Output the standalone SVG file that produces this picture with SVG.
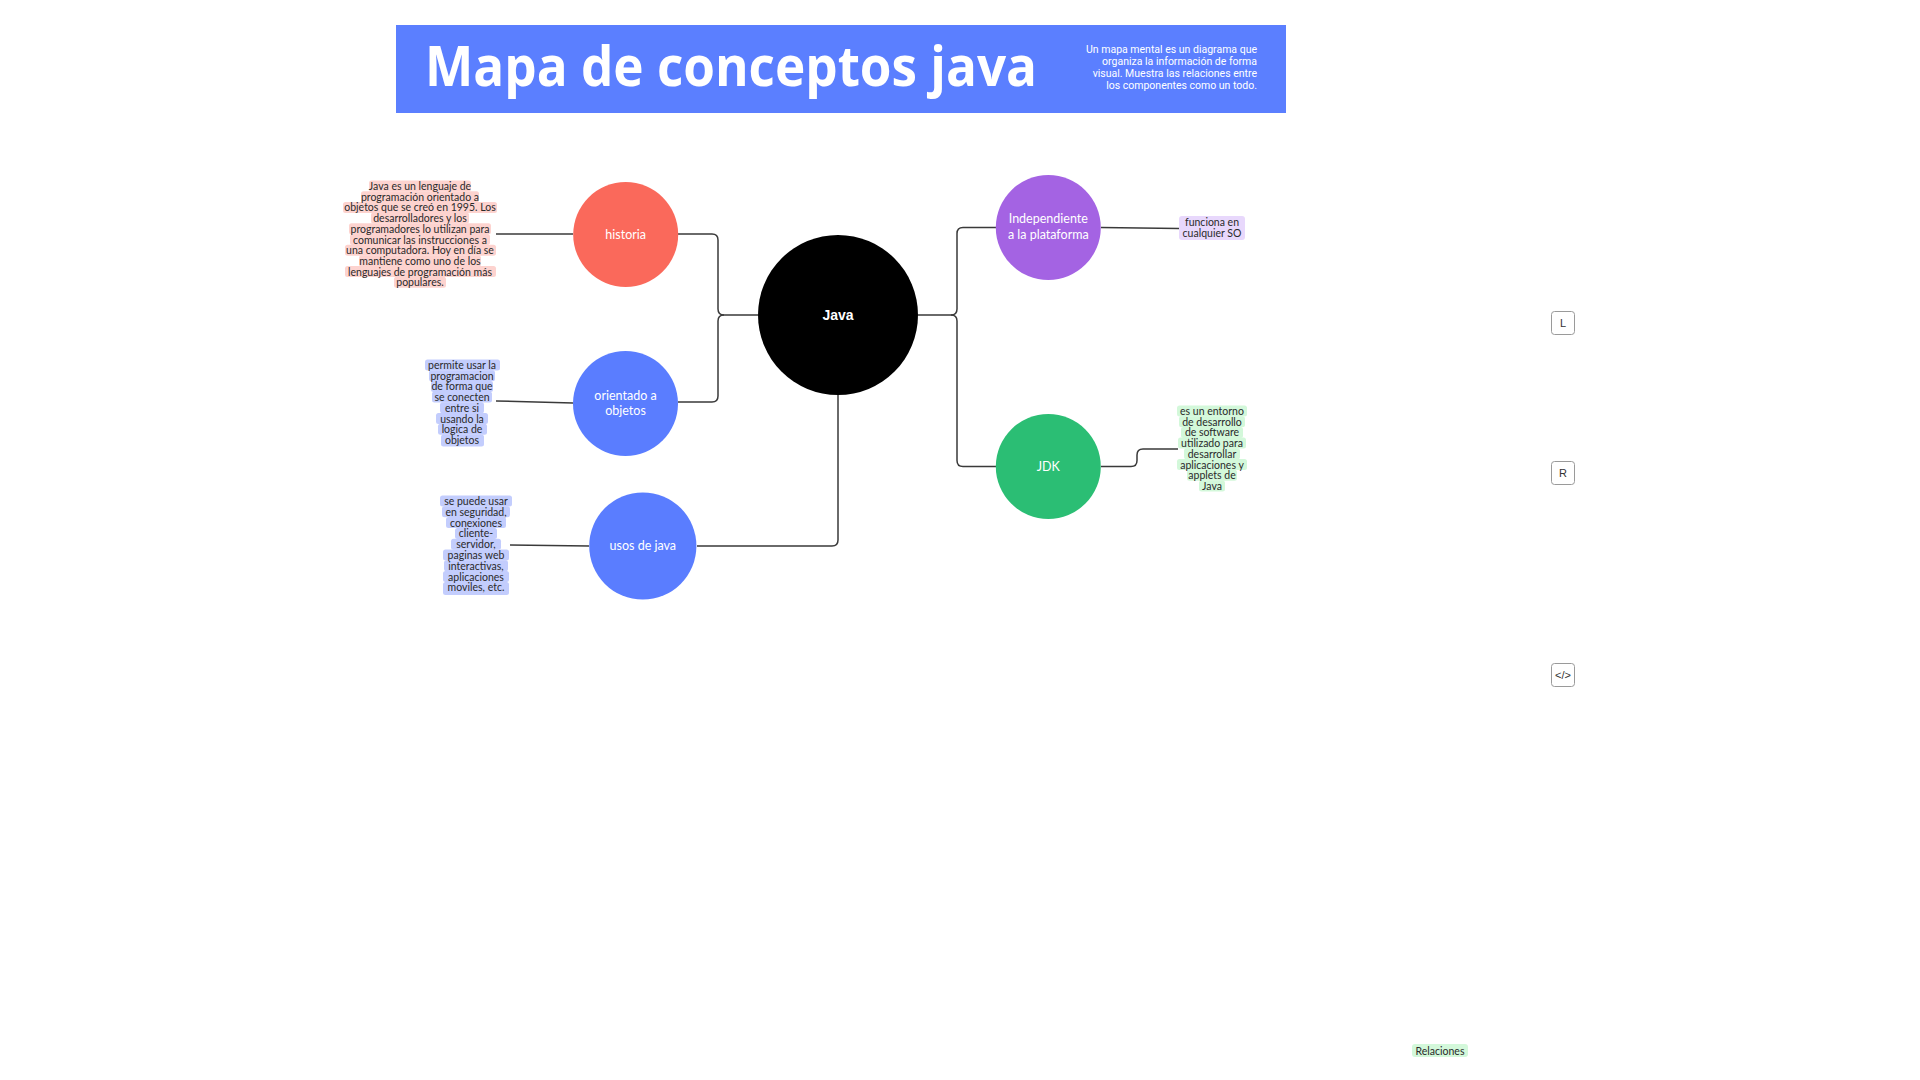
<svg xmlns="http://www.w3.org/2000/svg" width="1920" height="1080" viewBox="0 0 1920 1080">
<style>
.conn{fill:none;stroke:#3a3a3a;stroke-width:1.5}
.ctext{font-family:Lato,"Noto Sans",sans-serif;font-size:12.5px;fill:#ffffff;text-anchor:middle;dominant-baseline:central}
.lbl{font-family:Lato,"Noto Sans",sans-serif;font-size:10.5px;fill:#2a2a2a;text-anchor:middle;dominant-baseline:central}
.btn rect{fill:#ffffff;stroke:#9a9a9a;stroke-width:1}
.btn text{font-family:"Liberation Sans",Arial,sans-serif;font-size:11px;fill:#333;text-anchor:middle;dominant-baseline:central}
.hp{fill:#fdd3cf}
.hb{fill:#c3cdfd}
.hv{fill:#e8d8fc}
.hg{fill:#d3f8da}
</style>
<rect width="1920" height="1080" fill="#ffffff"/>
<g id="header">
<rect x="396" y="25" width="890" height="88" fill="#5b7fff"/>
<text x="425" y="86" font-family="'Open Sans','Noto Sans',sans-serif" font-weight="700" font-size="56" fill="#ffffff" textLength="612" lengthAdjust="spacingAndGlyphs">Mapa de conceptos java</text>
<g font-family="Roboto,'Noto Sans',sans-serif" font-size="10.5" fill="#ffffff" text-anchor="end">
<text x="1257" y="53">Un mapa mental es un diagrama que</text>
<text x="1257" y="65">organiza la información de forma</text>
<text x="1257" y="77">visual. Muestra las relaciones entre</text>
<text x="1257" y="89">los componentes como un todo.</text>
</g>
</g>
<g id="connectors">
<path class="conn" d="M678,234 H712 Q718,234 718,240 V309 Q718,315 724,315 H758"/>
<path class="conn" d="M678,402 H712 Q718,402 718,396 V321 Q718,315 724,315"/>
<path class="conn" d="M697,546 H832 Q838,546 838,540 V395"/>
<path class="conn" d="M918,315 H951 Q957,315 957,309 V233.5 Q957,227.5 963,227.5 H996"/>
<path class="conn" d="M951,315 Q957,315 957,321 V460.5 Q957,466.5 963,466.5 H996"/>
<path class="conn" d="M496,234 H573" stroke="#666"/>
<path class="conn" d="M496,401 L573,403"/>
<path class="conn" d="M510,545 L589,546"/>
<path class="conn" d="M1101,227.5 L1179,228.5"/>
<path class="conn" d="M1101,466.5 H1131 Q1137,466.5 1137,460.5 V455 Q1137,449 1143,449 H1178"/>
</g>
<g id="java">
<circle cx="838" cy="315" r="80" fill="#000000"/>
<text x="838" y="315" font-family="'Liberation Sans',Arial,sans-serif" font-weight="700" font-size="14" fill="#ffffff" text-anchor="middle" dominant-baseline="central">Java</text>
</g>
<g id="historia">
<circle cx="625.7" cy="234.5" r="52.5" fill="#fa695b"/>
<text class="ctext" x="625.7" y="234">historia</text>
</g>
<g id="orientado">
<circle cx="625.5" cy="403.5" r="52.5" fill="#5a7dff"/>
<text class="ctext" x="625.5" y="395.5">orientado a</text>
<text class="ctext" x="625.5" y="410.5">objetos</text>
</g>
<g id="usos">
<circle cx="642.8" cy="546" r="53.6" fill="#5a7dff"/>
<text class="ctext" x="642.8" y="545.5">usos de java</text>
</g>
<g id="independiente">
<circle cx="1048.3" cy="227.5" r="52.5" fill="#a463e3"/>
<text class="ctext" x="1048.3" y="218.5">Independiente</text>
<text class="ctext" x="1048.3" y="234.5">a la plataforma</text>
</g>
<g id="jdk">
<circle cx="1048.3" cy="466.5" r="52.5" fill="#2bbe74"/>
<text class="ctext" x="1048.3" y="466.5">JDK</text>
</g>
<g id="label-historia">
<rect class="hp" x="369" y="180.5" width="102" height="11" rx="2.5"/>
<rect class="hp" x="361" y="191.2" width="118" height="11" rx="2.5"/>
<rect class="hp" x="343" y="201.9" width="154" height="11" rx="2.5"/>
<rect class="hp" x="371" y="212.6" width="98" height="11" rx="2.5"/>
<rect class="hp" x="349" y="223.3" width="142" height="11" rx="2.5"/>
<rect class="hp" x="350" y="234" width="140" height="11" rx="2.5"/>
<rect class="hp" x="345" y="244.7" width="151" height="11" rx="2.5"/>
<rect class="hp" x="359" y="255.4" width="122" height="11" rx="2.5"/>
<rect class="hp" x="345" y="266.1" width="151" height="11" rx="2.5"/>
<rect class="hp" x="394" y="276.8" width="52" height="11" rx="2.5"/>
<text class="lbl" x="420" y="186">Java es un lenguaje de</text>
<text class="lbl" x="420" y="196.7">programación orientado a</text>
<text class="lbl" x="420" y="207.4">objetos que se creó en 1995. Los</text>
<text class="lbl" x="420" y="218.1">desarrolladores y los</text>
<text class="lbl" x="420" y="228.8">programadores lo utilizan para</text>
<text class="lbl" x="420" y="239.5">comunicar las instrucciones a</text>
<text class="lbl" x="420" y="250.2">una computadora. Hoy en día se</text>
<text class="lbl" x="420" y="260.9">mantiene como uno de los</text>
<text class="lbl" x="420" y="271.6">lenguajes de programación más</text>
<text class="lbl" x="420" y="282.3">populares.</text>
</g>
<g id="label-orientado">
<rect class="hb" x="425" y="359.5" width="75" height="11" rx="2.5"/>
<rect class="hb" x="429" y="370.2" width="66" height="11" rx="2.5"/>
<rect class="hb" x="431" y="380.9" width="62" height="11" rx="2.5"/>
<rect class="hb" x="432" y="391.6" width="60" height="11" rx="2.5"/>
<rect class="hb" x="440" y="402.3" width="44" height="11" rx="2.5"/>
<rect class="hb" x="436" y="413" width="52" height="11" rx="2.5"/>
<rect class="hb" x="438" y="423.7" width="49" height="11" rx="2.5"/>
<rect class="hb" x="441" y="434.4" width="43" height="12" rx="2.5"/>
<text class="lbl" x="462" y="365">permite usar la</text>
<text class="lbl" x="462" y="375.7">programacion</text>
<text class="lbl" x="462" y="386.4">de forma que</text>
<text class="lbl" x="462" y="397.1">se conecten</text>
<text class="lbl" x="462" y="407.8">entre si</text>
<text class="lbl" x="462" y="418.5">usando la</text>
<text class="lbl" x="462" y="429.2">logica de</text>
<text class="lbl" x="462" y="439.9">objetos</text>
</g>
<g id="label-usos">
<rect class="hb" x="440" y="495.5" width="72" height="11" rx="2.5"/>
<rect class="hb" x="442" y="506.3" width="68" height="11" rx="2.5"/>
<rect class="hb" x="446" y="517.1" width="60" height="11" rx="2.5"/>
<rect class="hb" x="455" y="527.9" width="42" height="11" rx="2.5"/>
<rect class="hb" x="451" y="538.7" width="50" height="11" rx="2.5"/>
<rect class="hb" x="443" y="549.5" width="66" height="11" rx="2.5"/>
<rect class="hb" x="444" y="560.3" width="64" height="11" rx="2.5"/>
<rect class="hb" x="443" y="571.1" width="66" height="11" rx="2.5"/>
<rect class="hb" x="443" y="581.9" width="66" height="13" rx="2.5"/>
<text class="lbl" x="476" y="501">se puede usar</text>
<text class="lbl" x="476" y="511.8">en seguridad,</text>
<text class="lbl" x="476" y="522.6">conexiones</text>
<text class="lbl" x="476" y="533.4">cliente-</text>
<text class="lbl" x="476" y="544.2">servidor,</text>
<text class="lbl" x="476" y="555">paginas web</text>
<text class="lbl" x="476" y="565.8">interactivas,</text>
<text class="lbl" x="476" y="576.6">aplicaciones</text>
<text class="lbl" x="476" y="587.4">moviles, etc.</text>
</g>
<g id="label-independiente">
<rect class="hv" x="1179" y="216" width="66" height="24" rx="3"/>
<text class="lbl" x="1212" y="221.8">funciona en</text>
<text class="lbl" x="1212" y="233">cualquier SO</text>
</g>
<g id="label-jdk">
<rect class="hg" x="1177" y="405.5" width="70" height="11" rx="2.5"/>
<rect class="hg" x="1179" y="416.2" width="66" height="11" rx="2.5"/>
<rect class="hg" x="1181" y="426.9" width="62" height="11" rx="2.5"/>
<rect class="hg" x="1178" y="437.6" width="68" height="11" rx="2.5"/>
<rect class="hg" x="1184" y="448.3" width="56" height="11" rx="2.5"/>
<rect class="hg" x="1177" y="459" width="70" height="11" rx="2.5"/>
<rect class="hg" x="1187" y="469.7" width="50" height="11" rx="2.5"/>
<rect class="hg" x="1199" y="480.4" width="26" height="11" rx="2.5"/>
<text class="lbl" x="1212" y="411">es un entorno</text>
<text class="lbl" x="1212" y="421.7">de desarrollo</text>
<text class="lbl" x="1212" y="432.4">de software</text>
<text class="lbl" x="1212" y="443.1">utilizado para</text>
<text class="lbl" x="1212" y="453.8">desarrollar</text>
<text class="lbl" x="1212" y="464.5">aplicaciones y</text>
<text class="lbl" x="1212" y="475.2">applets de</text>
<text class="lbl" x="1212" y="485.9">Java</text>
</g>
<g id="btn-L" class="btn">
<rect x="1551.5" y="311.5" width="23" height="23" rx="3"/>
<text x="1563" y="323">L</text>
</g>
<g id="btn-R" class="btn">
<rect x="1551.5" y="461.5" width="23" height="23" rx="3"/>
<text x="1563" y="473">R</text>
</g>
<g id="btn-code" class="btn">
<rect x="1551.5" y="663.5" width="23" height="23" rx="3"/>
<text x="1563" y="675">&lt;/&gt;</text>
</g>
<g id="relaciones">
<rect x="1412" y="1044" width="56" height="13" rx="3" fill="#d3f8da"/>
<text x="1440" y="1050.5" font-family="Lato,'Noto Sans',sans-serif" font-size="10.5" fill="#2a2a2a" text-anchor="middle" dominant-baseline="central">Relaciones</text>
</g>
</svg>
